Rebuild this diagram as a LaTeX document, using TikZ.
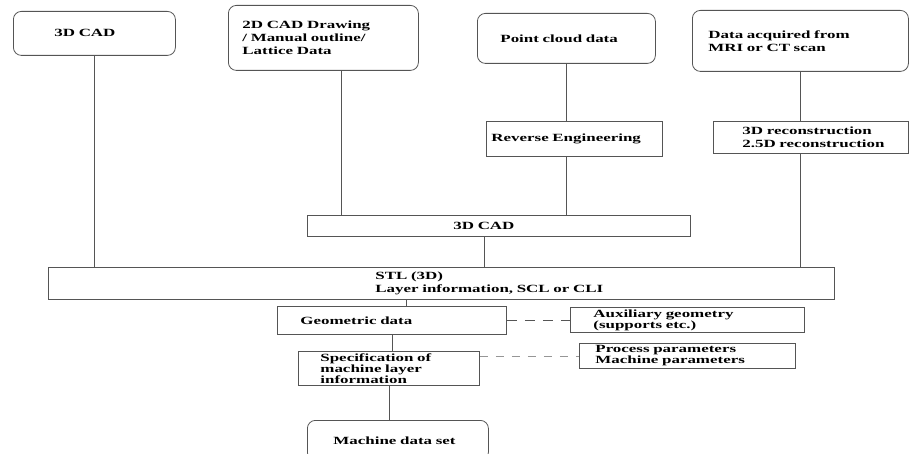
\documentclass[tikz,border=0pt]{standalone}
\usepackage{fontspec}
\setmainfont[FakeStretch=1.54]{Liberation Serif}
\usetikzlibrary{positioning}
\definecolor{ln}{RGB}{85,85,85}
\definecolor{lt}{RGB}{150,150,150}
\tikzset{
  blk/.style={draw=ln, line width=0.8pt, inner xsep=0pt, inner ysep=0pt, align=left,
    anchor=north west, font=\bfseries\fontsize{11}{13}\selectfont},
  rnd/.style={blk, rounded corners=8pt},
  low/.style={blk, font=\bfseries\fontsize{11}{11}\selectfont},
  lpad/.style={execute at begin node={\leftskip=#1pt\relax}},
  wire/.style={draw=ln, line width=0.8pt},
  dashwire/.style={wire, dash pattern=on 10pt off 8pt}
}

\begin{document}
\begin{tikzpicture}[x=1pt, y=1pt]
\useasboundingbox (0,0) rectangle (909,-454);
% sources
\node[rnd, text width=162, minimum height=44, lpad=41] (cadA) at (13,-11) {3D CAD};
\node[rnd, text width=190, minimum height=65, lpad=14] (sketch) at (228,-5) {2D CAD Drawing\\/ Manual outline/\\Lattice Data};
\node[rnd, text width=178, minimum height=50, lpad=23] (cloud) at (477,-13) {Point cloud data};
\node[rnd, text width=216, minimum height=61, lpad=16] (scan) at (692,-10) {Data acquired from\\MRI or CT scan};
% preprocessing
\node[blk, text width=176, minimum height=35, lpad=5] (reverse) at (486,-121) {Reverse Engineering};
\node[blk, text width=195, minimum height=32, lpad=29] (recon) at (713,-121) {3D reconstruction\\2.5D reconstruction};
\node[blk, text width=383, minimum height=21, lpad=146] (cadB) at (307,-215) {3D CAD};
\node[blk, text width=786, minimum height=32, lpad=327] (stl) at (48,-267) {STL (3D)\\Layer information, SCL or CLI};
% machine side
\node[low, text width=229, minimum height=28, lpad=23] (geom) at (277,-306) {Geometric data};
\node[low, text width=181, minimum height=34, lpad=22] (spec) at (298,-351) {Specification of\\machine layer\\information};
\node[low, rounded corners=8pt, text width=181, minimum height=40, lpad=26] (mds) at (307,-420) {Machine data set};
\node[low, text width=234, minimum height=25, lpad=23] (aux) at (570,-307) {Auxiliary geometry\\(supports etc.)};
\node[low, text width=216, minimum height=25, lpad=16] (proc) at (579,-343) {Process parameters\\Machine parameters};
% connectors
\draw[wire] (cadA.south) -- (cadA.south |- stl.north);
\draw[wire] ([xshift=18]sketch.south) -- ([xshift=18]sketch.south |- cadB.north);
\draw[wire] (cloud.south) -- (cloud.south |- reverse.north);
\draw[wire] (reverse.south -| cloud.south) -- (cloud.south |- cadB.north);
\draw[wire] (scan.south) -- (scan.south |- recon.north);
\draw[wire] (recon.south -| scan.south) -- (scan.south |- stl.north);
\draw[wire] ([xshift=-15]cadB.south) -- ([xshift=-15]cadB.south |- stl.north);
\draw[wire] ([xshift=14]geom.north) -- ([xshift=14]geom.north |- stl.south);
\draw[wire] (geom.south) -- (geom.south |- spec.north);
\draw[wire] (spec.south) -- (spec.south |- mds.north);
\draw[dashwire] (geom.east) -- (geom.east -| aux.west);
\draw[dashwire, draw=lt, dash pattern=on 8pt off 8pt] (proc.west -| spec.east) -- (proc.west);
\end{tikzpicture}
\end{document}
